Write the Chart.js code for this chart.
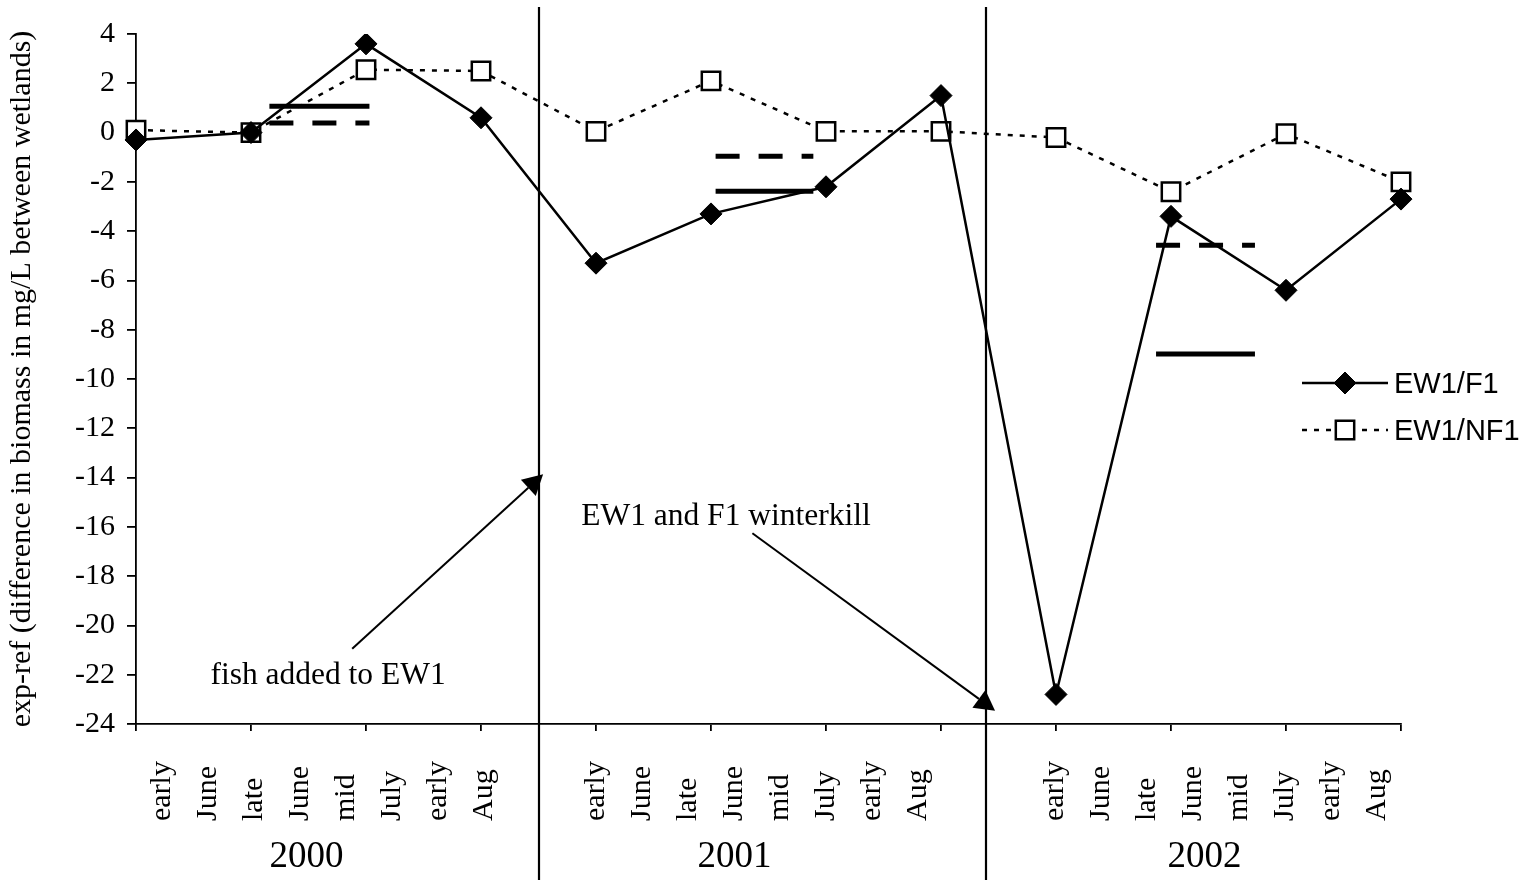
<!doctype html>
<html>
<head>
<meta charset="UTF-8">
<title>EW1 biomass difference</title>
<script src="https://cdn.jsdelivr.net/npm/chart.js@4.4.1/dist/chart.umd.min.js"></script>
<style>
body { margin: 0; background: #fff; }
#wrap { width: 1539px; height: 880px; }
</style>
</head>
<body>
<div id="wrap"><canvas id="biomassChart" width="1539" height="880"></canvas></div>
<script>

// sampling periods, same in every year
var periods = ['early June', 'late June', 'mid July', 'early Aug'];
var years = ['2000', '2001', '2002'];
var categories = [].concat(periods, periods, periods);

// exp-ref, difference in biomass (mg/L)
var ew1F1  = [-0.3, 0.0, 3.6, 0.6,  -5.3, -3.3, -2.2, 1.5,  -22.8, -3.4, -6.4, -2.7];
var ew1NF1 = [0.1, 0.0, 2.55, 2.5,  0.05, 2.1, 0.05, 0.05,  -0.2, -2.4, -0.05, -2.0];

// horizontal mean bars, x in category-index units
var barFrom    = [1.16, 5.04, 8.87];
var barTo      = [2.03, 5.89, 9.73];
var solidBarY  = [1.07, -2.38, -8.99];
var dashedBarY = [0.39, -0.96, -4.57];

// year separators (category-index units)
var separators = [3.5, 7.39];

// y axis
var yMin = -24, yMax = 4, yStep = 2;

// notes with arrows (x in index units, y in mg/L)
var notes = [
  { text: 'fish added to EW1', at: [1.67, -22.05], from: [1.88, -20.95], to: [3.54, -13.87] },
  { text: 'EW1 and F1 winterkill', at: [5.13, -15.6], from: [5.36, -16.26], to: [7.47, -23.46] }
];

var SERIF = '"Liberation Serif", "Times New Roman", serif';
var SANS = '"Liberation Sans", Arial, sans-serif';

function barSet(from, to, y, dash, label) {
  var sets = [];
  for (var i = 0; i < from.length; i++) {
    sets.push({
      label: label,
      xAxisID: 'x2',
      data: [{ x: from[i], y: y[i] }, { x: to[i], y: y[i] }],
      borderColor: '#000',
      borderWidth: 5,
      borderDash: dash,
      borderCapStyle: 'butt',
      pointRadius: 0,
      fill: false
    });
  }
  return sets;
}

var datasets = [
  {
    label: 'EW1/F1',
    data: ew1F1,
    borderColor: '#000',
    borderWidth: 2.5,
    pointStyle: 'rectRot',
    pointRadius: 11,
    pointBackgroundColor: '#000',
    pointBorderColor: '#000',
    pointBorderWidth: 1,
    tension: 0,
    fill: false
  },
  {
    label: 'EW1/NF1',
    data: ew1NF1,
    borderColor: '#000',
    borderWidth: 2.5,
    borderDash: [5, 7],
    pointStyle: 'rect',
    pointRadius: 13,
    pointBackgroundColor: '#fff',
    pointBorderColor: '#000',
    pointBorderWidth: 2.5,
    tension: 0,
    fill: false
  }
].concat(barSet(barFrom, barTo, solidBarY, [], 'mean'), barSet(barFrom, barTo, dashedBarY, [24, 19], 'mean'));

// words under the x axis, year names, separators, notes and legend
var decorations = {
  id: 'decorations',
  afterDraw: function(chart) {
    var ctx = chart.ctx;
    var x = chart.scales.x, x2 = chart.scales.x2, y = chart.scales.y;
    var area = chart.chartArea;

    // period words, rotated
    var groupStart = [26, 0, -1];
    ctx.save();
    ctx.fillStyle = '#000';
    ctx.font = '30px ' + SERIF;
    ctx.textAlign = 'left';
    ctx.textBaseline = 'middle';
    categories.forEach(function(cat, i) {
      var g = Math.floor(i / 4), k = i % 4;
      var words = cat.split(' ');
      words.forEach(function(w, j) {
        var px = x.getPixelForValue(g * 4) + groupStart[g] + (2 * k + j) * 46;
        ctx.save();
        ctx.translate(px, 821);
        ctx.rotate(-Math.PI / 2);
        ctx.fillText(w, 0, 0);
        ctx.restore();
      });
    });

    // years
    var yearShift = [-2, -34, -24];
    ctx.font = '37px ' + SERIF;
    ctx.textAlign = 'center';
    years.forEach(function(yr, g) {
      ctx.fillText(yr, x2.getPixelForValue(g * 4 + 1.5) + yearShift[g], 857);
    });
    ctx.restore();

    // separators
    ctx.save();
    ctx.strokeStyle = '#000';
    ctx.lineWidth = 2.2;
    separators.forEach(function(s) {
      var px = Math.round(x2.getPixelForValue(s));
      ctx.beginPath();
      ctx.moveTo(px, 7);
      ctx.lineTo(px, chart.height);
      ctx.stroke();
    });
    ctx.restore();

    // notes and arrows
    ctx.save();
    ctx.fillStyle = '#000';
    ctx.strokeStyle = '#000';
    ctx.lineWidth = 2;
    ctx.font = '31.5px ' + SERIF;
    ctx.textAlign = 'center';
    ctx.textBaseline = 'middle';
    notes.forEach(function(n) {
      ctx.fillText(n.text, x2.getPixelForValue(n.at[0]), y.getPixelForValue(n.at[1]));
      var x0 = x2.getPixelForValue(n.from[0]), y0 = y.getPixelForValue(n.from[1]);
      var x1 = x2.getPixelForValue(n.to[0]), y1 = y.getPixelForValue(n.to[1]);
      var dx = x1 - x0, dy = y1 - y0, len = Math.sqrt(dx * dx + dy * dy);
      var ux = dx / len, uy = dy / len;
      var head = 20, half = 11;
      var bx = x1 - ux * head, by = y1 - uy * head;
      ctx.beginPath();
      ctx.moveTo(x0, y0);
      ctx.lineTo(bx, by);
      ctx.stroke();
      ctx.beginPath();
      ctx.moveTo(x1, y1);
      ctx.lineTo(bx - uy * half, by + ux * half);
      ctx.lineTo(bx + uy * half, by - ux * half);
      ctx.closePath();
      ctx.fill();
    });
    ctx.restore();

    // legend
    ctx.save();
    [0, 1].forEach(function(di, r) {
      var ds = chart.data.datasets[di];
      var ly = 383 + r * 47;
      var lx0 = area.right - 99, lx1 = area.right - 13;
      ctx.strokeStyle = ds.borderColor;
      ctx.lineWidth = ds.borderWidth;
      ctx.setLineDash(ds.borderDash || []);
      ctx.beginPath();
      ctx.moveTo(lx0, ly);
      ctx.lineTo(lx1, ly);
      ctx.stroke();
      ctx.setLineDash([]);
      ctx.fillStyle = ds.pointBackgroundColor;
      ctx.strokeStyle = ds.pointBorderColor;
      ctx.lineWidth = ds.pointBorderWidth;
      Chart.helpers.drawPoint(ctx, {
        pointStyle: ds.pointStyle,
        radius: ds.pointRadius,
        borderWidth: ds.pointBorderWidth,
        rotation: 0
      }, (lx0 + lx1) / 2, ly);
      ctx.fillStyle = '#000';
      ctx.font = '29px ' + SANS;
      ctx.textAlign = 'left';
      ctx.textBaseline = 'middle';
      ctx.fillText(ds.label, area.right - 7, ly + 2);
    });
    ctx.restore();
  }
};

new Chart(document.getElementById('biomassChart'), {
  type: 'line',
  data: { labels: categories, datasets: datasets },
  options: {
    responsive: false,
    animation: false,
    layout: { padding: { top: 34, right: 138, left: 0, bottom: 0 } },
    plugins: {
      legend: { display: false },
      tooltip: { enabled: false }
    },
    scales: {
      x: {
        type: 'category',
        offset: false,
        grid: { display: true, drawOnChartArea: false, drawTicks: true, tickLength: 7, color: '#000', lineWidth: 1.8 },
        border: { display: true, color: '#000', width: 1.8 },
        ticks: { display: false },
        afterFit: function(s) { s.height = 156; }
      },
      x2: {
        type: 'linear',
        display: false,
        min: 0,
        max: categories.length - 1,
        offset: false
      },
      y: {
        min: yMin,
        max: yMax,
        grid: { display: true, drawOnChartArea: false, drawTicks: true, tickLength: 9, color: '#000', lineWidth: 1.8 },
        border: { display: true, color: '#000', width: 1.8 },
        ticks: {
          stepSize: yStep,
          color: '#000',
          padding: 12,
          font: { family: SERIF, size: 30 }
        },
        title: {
          display: true,
          text: 'exp-ref (difference in biomass in mg/L between wetlands)',
          color: '#000',
          padding: { top: 4, bottom: 0 },
          font: { family: SERIF, size: 30 }
        },
        afterFit: function(s) { s.width = 136; }
      }
    }
  },
  plugins: [decorations]
});
</script>
</body>
</html>
